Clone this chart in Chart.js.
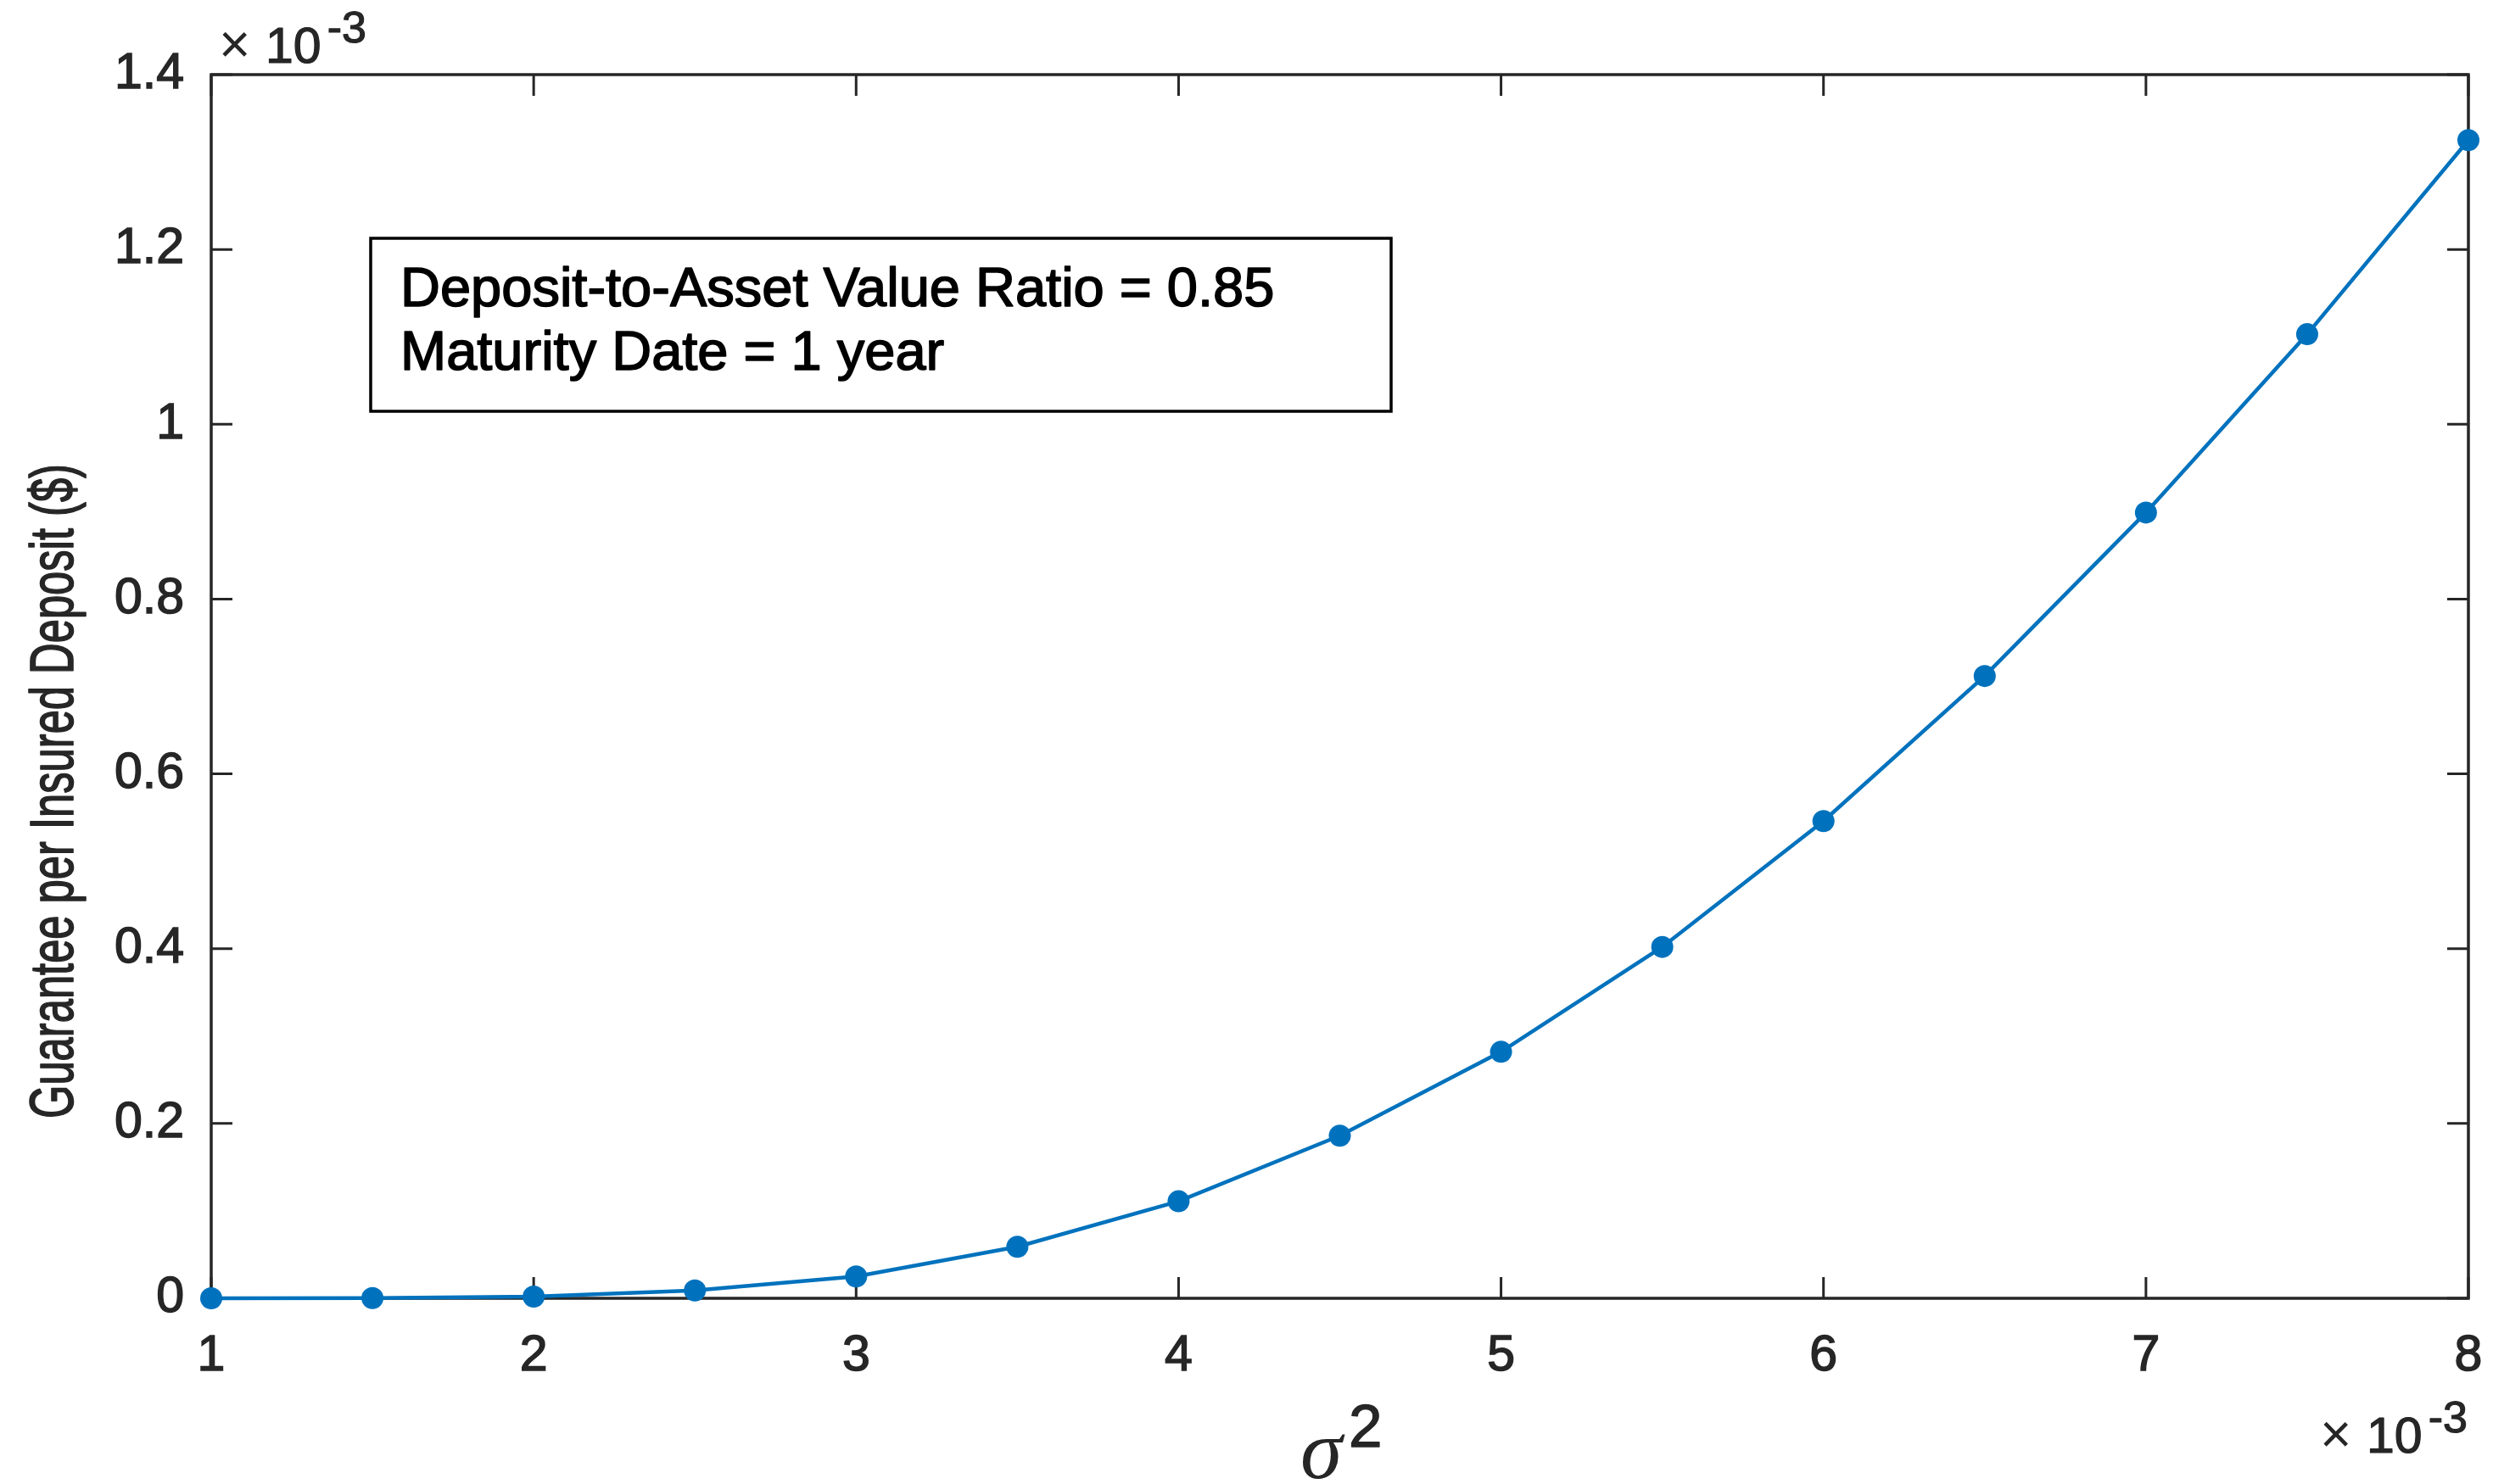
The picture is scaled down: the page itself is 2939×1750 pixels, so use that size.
<!DOCTYPE html>
<html>
<head>
<meta charset="utf-8">
<script src="https://cdn.jsdelivr.net/npm/chart.js@4.4.1/dist/chart.umd.min.js"></script>
<style>
  html, body { margin: 0; padding: 0; background: #fff; }
  #wrap { width: 2939px; height: 1750px; }
</style>
</head>
<body>
<div id="wrap"><canvas id="chart" width="2939" height="1750"></canvas></div>
<script>
/************** DATA **************/
// sigma^2, in units of 10^-3
const sigma2 = [1, 1.5, 2, 2.5, 3, 3.5, 4, 4.5, 5, 5.5, 6, 6.5, 7, 7.5, 8];
// guarantee per insured deposit, in units of 10^-3 $
const guarantee = [0, 0.0003, 0.002, 0.009, 0.025, 0.059, 0.111, 0.186, 0.282, 0.402, 0.546, 0.712, 0.899, 1.103, 1.325];

const xTicks = [1, 2, 3, 4, 5, 6, 7, 8];
const yTicks = [0, 0.2, 0.4, 0.6, 0.8, 1, 1.2, 1.4];

const yTitle = "Guarantee per Insured Deposit ($)";
const noteLines = ["Deposit-to-Asset Value Ratio = 0.85", "Maturity Date = 1 year"];

/************** STYLE **************/
const AXIS_COLOR = "#262626";
const LINE_COLOR = "#0072BD";
const SANS = "'Liberation Sans', Arial, sans-serif";
const SERIF = "'Liberation Serif', 'Times New Roman', serif";

// filled text with a thin stroke so it reads as heavy as the original
function heavyText(ctx, txt, x, y, sw) {
  ctx.lineWidth = sw;
  ctx.strokeStyle = ctx.fillStyle;
  ctx.lineJoin = "round";
  ctx.strokeText(txt, x, y);
  ctx.fillText(txt, x, y);
}

// x10^-3 label, left edge of the "x" + baseline of "10"
function drawExponent(ctx, x, baseline) {
  ctx.fillStyle = AXIS_COLOR;
  ctx.textAlign = "left";
  ctx.textBaseline = "alphabetic";
  ctx.font = "64px " + SANS;
  ctx.fillText("\u00d7", x - 3, baseline);
  ctx.font = "59px " + SANS;
  heavyText(ctx, "10", x + 52, baseline, 1.2);
  const w = ctx.measureText("10").width;
  ctx.font = "52px " + SANS;
  heavyText(ctx, "-3", x + 59 + w, baseline - 24, 1.2);
}

/************** PLUGIN: matlab style box, ticks, texts **************/
const matlabAxes = {
  id: "matlabAxes",
  beforeDatasetsDraw(chart) {
    const { ctx, chartArea: a, scales: { x, y } } = chart;
    ctx.save();
    ctx.strokeStyle = AXIS_COLOR;
    ctx.lineWidth = 3.5;
    ctx.strokeRect(a.left, a.top, a.right - a.left, a.bottom - a.top);

    // inward ticks on all four sides
    const tl = 25;
    ctx.lineWidth = 3;
    ctx.beginPath();
    xTicks.forEach(v => {
      const px = x.getPixelForValue(v);
      ctx.moveTo(px, a.bottom); ctx.lineTo(px, a.bottom - tl);
      ctx.moveTo(px, a.top); ctx.lineTo(px, a.top + tl);
    });
    yTicks.forEach(v => {
      const py = y.getPixelForValue(v);
      ctx.moveTo(a.left, py); ctx.lineTo(a.left + tl, py);
      ctx.moveTo(a.right, py); ctx.lineTo(a.right - tl, py);
    });
    ctx.stroke();
    ctx.restore();
  },
  afterDraw(chart) {
    const { ctx, chartArea: a } = chart;
    ctx.save();

    // note box
    const bx = a.left + 188, by = a.top + 193, bw = 1203, bh = 204;
    ctx.fillStyle = "#fff";
    ctx.fillRect(bx, by, bw, bh);
    ctx.strokeStyle = "#000";
    ctx.lineWidth = 3.5;
    ctx.strokeRect(bx, by, bw, bh);
    ctx.fillStyle = "#000";
    ctx.font = "65px " + SANS;
    ctx.textAlign = "left";
    ctx.textBaseline = "middle";
    heavyText(ctx, noteLines[0], bx + 35, by + 62, 1.6);
    heavyText(ctx, noteLines[1], bx + 35, by + 137, 1.6);

    // y title (condensed along its length, like the original)
    ctx.save();
    ctx.translate(66, 933);
    ctx.rotate(-Math.PI / 2);
    ctx.fillStyle = AXIS_COLOR;
    ctx.font = "72px " + SANS;
    ctx.textAlign = "center";
    ctx.textBaseline = "middle";
    const tw = ctx.measureText(yTitle).width;
    ctx.scale(772 / tw, 1);
    heavyText(ctx, yTitle, 0, 0, 1.6);
    ctx.restore();

    // x title: sigma^2
    ctx.fillStyle = AXIS_COLOR;
    ctx.textAlign = "left";
    ctx.textBaseline = "alphabetic";
    ctx.font = "italic 100px " + SERIF;
    ctx.fillText("\u03c3", 1533, 1743);
    ctx.font = "71px " + SANS;
    heavyText(ctx, "2", 1590, 1706, 1.4);

    // multipliers
    drawExponent(ctx, 261, 74);
    drawExponent(ctx, 2738, 1713);
    ctx.restore();
  }
};

/************** CHART **************/
const ctx = document.getElementById("chart").getContext("2d");

const noEdgePad = s => {
  s.paddingLeft = 0; s.paddingRight = 0;
  s.paddingTop = 0; s.paddingBottom = 0;
};

new Chart(ctx, {
  type: "line",
  data: {
    datasets: [{
      data: sigma2.map((s, i) => ({ x: s, y: guarantee[i] })),
      borderColor: LINE_COLOR,
      backgroundColor: LINE_COLOR,
      borderWidth: 4.5,
      pointRadius: 13,
      pointBackgroundColor: LINE_COLOR,
      pointBorderWidth: 0,
      tension: 0,
      clip: false
    }]
  },
  options: {
    responsive: false,
    animation: false,
    devicePixelRatio: 1,
    layout: { padding: { top: 88, right: 29, left: 0, bottom: 0 } },
    plugins: { legend: { display: false }, tooltip: { enabled: false } },
    scales: {
      x: {
        type: "linear",
        min: 1,
        max: 8,
        afterBuildTicks: s => { s.ticks = xTicks.map(v => ({ value: v })); },
        afterFit: s => { s.height = 219; noEdgePad(s); },
        grid: { display: false, drawTicks: false },
        border: { display: false },
        ticks: {
          padding: 33,
          color: AXIS_COLOR,
          textStrokeColor: AXIS_COLOR,
          textStrokeWidth: 1.5,
          font: { family: SANS, size: 59 },
          maxRotation: 0,
          autoSkip: false,
          callback: v => String(v)
        }
      },
      y: {
        type: "linear",
        min: 0,
        max: 1.4,
        afterBuildTicks: s => { s.ticks = yTicks.map(v => ({ value: v })); },
        afterFit: s => { s.width = 249; noEdgePad(s); },
        grid: { display: false, drawTicks: false },
        border: { display: false },
        ticks: {
          padding: 32,
          color: AXIS_COLOR,
          textStrokeColor: AXIS_COLOR,
          textStrokeWidth: 1.5,
          font: { family: SANS, size: 59 },
          autoSkip: false,
          callback: v => String(Math.round(v * 10) / 10)
        }
      }
    }
  },
  plugins: [matlabAxes]
});
</script>
</body>
</html>
